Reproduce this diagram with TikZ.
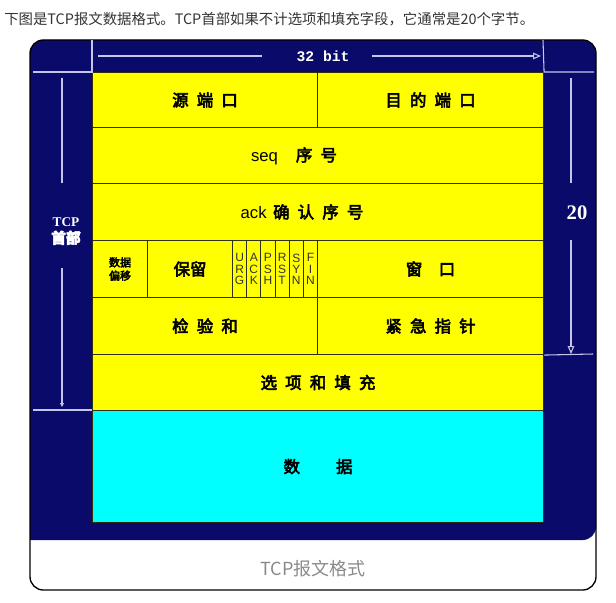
\documentclass[tikz,border=0pt]{standalone}
\usepackage{fontspec}
\setmainfont{Liberation Serif}
\setsansfont{Liberation Sans}
\setmonofont{Liberation Mono}
\newfontfamily\cjk{Noto Sans CJK SC}
\newfontfamily\cjkb[FakeBold=3.5]{Noto Sans CJK SC}
\usetikzlibrary{arrows.meta}
\definecolor{Navy}{HTML}{0A0A6A}
\definecolor{Field}{HTML}{FFFF00}
\definecolor{Payload}{HTML}{00FFFF}
\definecolor{Grid}{HTML}{2E2E10}
\definecolor{Dim}{HTML}{C4C4EC}
\definecolor{Ink}{HTML}{333333}
\definecolor{CapGray}{HTML}{8A8A8A}
\newcommand\cgap{\hspace{0.5em}}

\begin{document}
\begin{tikzpicture}[
  x=0.75pt, y=-0.75pt,
  cellw/.style={minimum width=#1*0.75pt},
  cellh/.style={minimum height=#1*0.75pt},
  cell/.style={
    draw=Grid,
    fill=Field,
    line width=0.8pt,
    inner sep=0pt,
    anchor=north west,
    font=\cjkb\fontsize{12.3}{14}\selectfont
  },
  flag/.style={
    cell,
    cellw=14.17,
    cellh=57,
    align=center,
    text=Ink,
    font=\sffamily\fontsize{9}{8.4}\selectfont
  },
  dim/.style={draw=Dim, line width=0.8pt},
  dimarrow/.style={dim, -{Triangle[open,length=6pt,width=5pt]}},
  whitetext/.style={text=white, inner sep=0pt}
]
\useasboundingbox (0,0) rectangle (616,602);

% card
\fill[Navy, rounded corners=10pt] (30,540) -- (30,40) -- (596,40) -- (596,540) [sharp corners] -- cycle;
\draw[black, line width=1pt, rounded corners=10pt] (30,40) rectangle (596,590);

\node[anchor=west, text=Ink, inner sep=0pt, font=\cjk\fontsize{10.8}{13}\selectfont] (intro) at (4,19)
  {下图是TCP报文数据格式。TCP首部如果不计选项和填充字段，它通常是20个字节。};
\node[text=CapGray, font=\cjk\fontsize{13.5}{16}\selectfont] (caption) at (313,569) {TCP报文格式};

% header fields
\node[cell, cellw=225, cellh=55] (srcport) at (92,72) {源\cgap 端\cgap 口};
\node[cell, cellw=226, cellh=55] (dstport) at (317,72) {目\cgap 的\cgap 端\cgap 口};
\node[cell, cellw=451, cellh=56] (seq) at (92,127) {};
\node[inner sep=0pt, font=\cjkb\fontsize{12.3}{14}\selectfont] (seqtxt) at (294,156)
  {{\sffamily\mdseries\fontsize{12.5}{14}\selectfont seq}\hspace{1.1em}序\cgap 号};
\node[cell, cellw=451, cellh=57] (ack) at (92,183) {};
\node[inner sep=0pt, font=\cjkb\fontsize{12.3}{14}\selectfont] (acktxt) at (302,212)
  {{\sffamily\mdseries\fontsize{12.5}{14}\selectfont ack}\hspace{0.4em}确\cgap 认\cgap 序\cgap 号};
\node[cell, cellw=55, cellh=57, align=center, font=\cjkb\fontsize{8.3}{10}\selectfont] (offset) at (92,240) {数据\\偏移};
\node[cell, cellw=85, cellh=57] (reserved) at (147,240) {保留};
\foreach \a/\b/\c [count=\i from 0] in {U/R/G, A/C/K, P/S/H, R/S/T, S/Y/N, F/I/N}
  \node[flag] (flag\i) at ({232+\i*14.17},240) {\a\\\b\\\c};
\node[cell, cellw=226, cellh=57] (window) at (317,240) {窗\hspace{1em}口};
\node[cell, cellw=225, cellh=57] (checksum) at (92,297) {检\cgap 验\cgap 和};
\node[cell, cellw=226, cellh=57] (urgent) at (317,297) {紧\cgap 急\cgap 指\cgap 针};
\node[cell, cellw=451, cellh=56] (options) at (92,354) {选\cgap 项\cgap 和\cgap 填\cgap 充};
\node[cell, fill=Payload, cellw=451, cellh=112] (data) at (92,410) {数\hspace{2.2em}据};

% 32 bit
\node[whitetext, font=\ttfamily\bfseries\fontsize{11}{13}\selectfont] (bits) at (323,56) {32 bit};
\coordinate (bitL) at (98,56);
\coordinate (bitLend) at (262,56);
\coordinate (bitRstart) at (372,56);
\coordinate (bitR) at (541,56);
\draw[dim] (bitL) -- (bitLend);
\draw[dimarrow] (bitRstart) -- (bitR);
\draw[dim] (92,40) -- (srcport.north west) -- (33,72);
\draw[dim] (543,40) -- (dstport.north east) -- (594,72);

% TCP header
\node[whitetext, align=center, font=\bfseries\fontsize{10}{13}\selectfont] (hdr) at (66,231)
  {TCP\\{\cjkb\fontsize{11}{13}\selectfont 首部}};
\coordinate (hdrTop) at (62,78);
\coordinate (hdrUp) at (62,183);
\coordinate (hdrDown) at (62,268);
\coordinate (hdrBot) at (62,407);
\draw[dim] (hdrTop) -- (hdrUp);
\draw[dim, -{Triangle[open,length=3pt,width=3pt]}] (hdrDown) -- (hdrBot);
\draw[dim] (33,410) -- (data.north west);

% 20 bytes
\node[whitetext, font=\bfseries\fontsize{15.5}{17}\selectfont] (twenty) at (577,213) {20};
\coordinate (twTop) at (571,78);
\coordinate (twUp) at (571,183);
\coordinate (twDown) at (571,240);
\coordinate (twBot) at (571,354);
\draw[dim] (twTop) -- (twUp);
\draw[dimarrow] (twDown) -- (twBot);
\draw[dim] (urgent.south east) -- (593,354);
\end{tikzpicture}
\end{document}
